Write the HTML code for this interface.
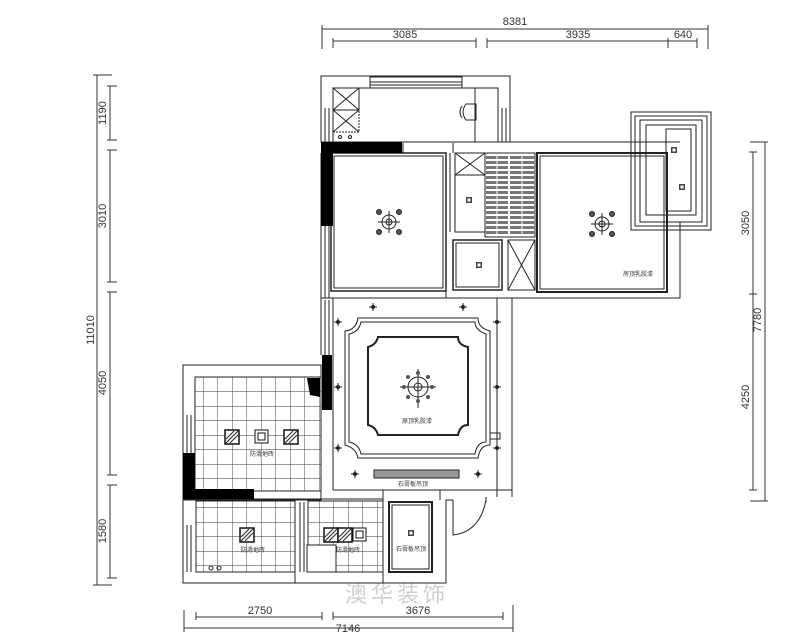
<!DOCTYPE html>
<html><head><meta charset="utf-8"><style>
html,body{margin:0;padding:0;background:#fff}
svg{display:block}
text{font-family:"Liberation Sans","Noto Sans CJK SC",sans-serif;fill:#333}
</style></head><body>
<svg width="800" height="637" viewBox="0 0 800 637" xmlns="http://www.w3.org/2000/svg">
<defs>
<g id="lamp" fill="none" stroke="#222" stroke-width="1">
<circle r="7"/><circle r="3"/><line x1="-11" y1="0" x2="11" y2="0"/><line x1="0" y1="-11" x2="0" y2="11"/>
<circle cx="-10" cy="-10" r="2.5" fill="#555"/><circle cx="10" cy="-10" r="2.5" fill="#555"/><circle cx="-10" cy="10" r="2.5" fill="#555"/><circle cx="10" cy="10" r="2.5" fill="#555"/>
</g>
<g id="dot"><rect x="-3" y="-3" width="6" height="6" fill="#444"/><rect x="-1.5" y="-1.5" width="3" height="3" fill="#fff"/></g>
<g id="hat"><rect x="-7" y="-7" width="14" height="14" fill="#fff" stroke="#111" stroke-width="1.5"/><path d="M-6 2 L2 -6 M-6 6 L6 -6 M-2 6 L6 -2" stroke="#333" stroke-width="1.2"/></g>
<g id="sp" stroke="#222" stroke-width="1"><line x1="-4" y1="0" x2="4" y2="0"/><line x1="0" y1="-4" x2="0" y2="4"/><circle r="1.5" fill="#222"/></g>
<pattern id="tile" width="14.5" height="14.5" patternUnits="userSpaceOnUse"><path d="M0 0 H14.5 M0 0 V14.5" stroke="#333" stroke-width="0.9" fill="none"/></pattern>
<pattern id="stair" width="10" height="5" patternUnits="userSpaceOnUse"><rect width="10" height="5" fill="#fff"/><rect y="1" width="10" height="3" fill="#777"/></pattern>
</defs>
<g fill="none" stroke="#333" stroke-width="1">
<!-- top dims -->
<line x1="322" y1="29" x2="708" y2="29"/><line x1="322" y1="25" x2="322" y2="49"/><line x1="708" y1="25" x2="708" y2="49"/>
<line x1="333" y1="41" x2="476" y2="41"/><line x1="487" y1="41" x2="697" y2="41"/>
<line x1="333" y1="38" x2="333" y2="48"/><line x1="476" y1="38" x2="476" y2="48"/><line x1="487" y1="38" x2="487" y2="48"/><line x1="668" y1="38" x2="668" y2="48"/><line x1="697" y1="38" x2="697" y2="48"/>
<!-- left dims -->
<line x1="97" y1="75" x2="97" y2="585"/><line x1="93" y1="75" x2="112" y2="75"/><line x1="93" y1="585" x2="112" y2="585"/>
<line x1="110" y1="86" x2="110" y2="140"/><line x1="110" y1="150" x2="110" y2="282"/><line x1="110" y1="292" x2="110" y2="475"/><line x1="110" y1="485" x2="110" y2="578"/>
<path d="M107 86h10M107 140h10M107 150h10M107 282h10M107 292h10M107 475h10M107 485h10M107 578h10"/>
<!-- right dims -->
<line x1="765" y1="142" x2="765" y2="501"/><line x1="750" y1="142" x2="768" y2="142"/><line x1="750" y1="501" x2="768" y2="501"/>
<line x1="753" y1="152" x2="753" y2="490"/><path d="M749 152h8M749 294h8M749 490h8"/>
<!-- bottom dims -->
<line x1="184" y1="610" x2="184" y2="632"/><line x1="513" y1="605" x2="513" y2="632"/>
<line x1="184" y1="628" x2="513" y2="628"/>
<line x1="196" y1="617" x2="322" y2="617"/><line x1="333" y1="617" x2="503" y2="617"/>
<path d="M196 612v8M322 612v8M333 612v8M503 612v8"/>
</g>
<g font-size="11" text-anchor="middle">
<text x="515" y="25">8381</text><text x="405" y="38">3085</text><text x="578" y="38">3935</text><text x="683" y="38">640</text>
<text transform="translate(106,113) rotate(-90)">1190</text>
<text transform="translate(106,216) rotate(-90)">3010</text>
<text transform="translate(94,330) rotate(-90)">11010</text>
<text transform="translate(106,383) rotate(-90)">4050</text>
<text transform="translate(106,531) rotate(-90)">1580</text>
<text transform="translate(749,223) rotate(-90)">3050</text>
<text transform="translate(761,320) rotate(-90)">7780</text>
<text transform="translate(749,397) rotate(-90)">4250</text>
<text x="260" y="614">2750</text><text x="418" y="614">3676</text><text x="348" y="632">7146</text>
</g>
<!-- watermark -->
<text x="345" y="602" font-size="22" fill="#ccc" style="fill:#d0d0d0" letter-spacing="4">澳华装饰</text>

<g fill="none" stroke="#222" stroke-width="1">
<!-- kitchen -->
<rect x="321" y="76" width="189" height="66"/>
<rect x="333" y="88" width="165" height="54"/>
<rect x="370" y="77" width="92" height="11"/><line x1="370" y1="82" x2="462" y2="82"/><line x1="370" y1="85" x2="462" y2="85"/>
<line x1="325" y1="108" x2="325" y2="142"/><line x1="329" y1="108" x2="329" y2="142"/>
<line x1="502" y1="108" x2="502" y2="142"/><line x1="506" y1="108" x2="506" y2="142"/>
<rect x="333" y="88" width="26" height="22"/><path d="M333 88l26 22M359 88l-26 22"/>
<rect x="333" y="110" width="26" height="22" stroke-dasharray="2 1"/><path d="M333 110l26 22M359 110l-26 22"/>
<circle cx="340" cy="137" r="1.5"/><circle cx="350" cy="137" r="1.5"/>
<line x1="475" y1="88" x2="475" y2="142"/>
<path d="M476 104h-10q-6 8 0 16h10z"/><path d="M462 106q-4 6 0 12"/>
<!-- upper band -->
<line x1="400" y1="142" x2="680" y2="142"/>
<line x1="403" y1="143" x2="403" y2="153"/><line x1="453" y1="143" x2="453" y2="153"/>
<!-- bedroom 1 -->
<rect x="331" y="153" width="115" height="138" stroke-width="1.5"/>
<rect x="334" y="156" width="109" height="132"/>
<path d="M321 153V298M325 226V298M329 226V298"/>
<line x1="321" y1="298" x2="512" y2="298"/>
<!-- middle -->
<line x1="446" y1="153" x2="446" y2="298"/><line x1="450" y1="153" x2="450" y2="232"/>
<rect x="455" y="153" width="30" height="22"/><path d="M455 153l30 22M485 153l-30 22"/>
<rect x="455" y="175" width="30" height="57"/>
<rect x="453" y="240" width="49" height="50" stroke-width="1.5"/><rect x="456" y="243" width="43" height="44"/>
<rect x="485" y="153" width="50" height="84"/>
<rect x="508" y="240" width="27" height="50"/><path d="M508 240l27 50M535 240l-27 50"/>
<!-- bedroom 2 -->
<rect x="537" y="153" width="130" height="139" stroke-width="2"/>
<rect x="540" y="156" width="124" height="133"/>
<path d="M667 222H680V298H512V497"/>
<!-- balcony -->
<rect x="631" y="112" width="80" height="118"/><rect x="635" y="116" width="72" height="110"/><rect x="640" y="120" width="62" height="102"/><rect x="646" y="125" width="50" height="90"/><rect x="666" y="129" width="25" height="82"/>
<!-- living -->
<line x1="333" y1="298" x2="333" y2="490"/>
<line x1="321" y1="298" x2="321" y2="355"/><line x1="325" y1="300" x2="325" y2="355"/><line x1="329" y1="300" x2="329" y2="355"/>
<line x1="321" y1="410" x2="321" y2="500"/>
<path d="M358 318H478Q478 328 490 331V445Q480 445 478 458H358Q356 448 345 445V331Q356 330 358 318Z" stroke-width="1"/>
<path d="M361 322H475Q475 330 486 334V442Q477 442 475 454H361Q359 444 349 442V334Q359 332 361 322Z"/>
<path d="M378 337H458Q458 345 468 347V425Q460 425 458 435H378Q376 427 368 425V347Q376 345 378 337Z" stroke-width="2"/>
<rect x="374" y="470" width="85" height="8" fill="#999"/><rect x="374" y="470" width="85" height="8"/>
<line x1="497" y1="298" x2="497" y2="497"/>
<rect x="490" y="433" width="10" height="6"/>
<line x1="333" y1="490" x2="512" y2="490"/>
<!-- dining -->
<rect x="183" y="365" width="138" height="135"/>
<rect x="195" y="377" width="126" height="114" fill="url(#tile)"/>
<rect x="195" y="377" width="126" height="114"/>
<path d="M187 415V453M191 415V453"/>
<!-- lower -->
<rect x="183" y="499" width="200" height="84"/>
<line x1="383" y1="490" x2="383" y2="583"/>
<rect x="196" y="501" width="99" height="71" fill="url(#tile)"/><rect x="196" y="501" width="99" height="71"/>
<path d="M187 525V572M191 525V572"/>
<line x1="295" y1="499" x2="295" y2="583"/><line x1="300" y1="502" x2="300" y2="572"/><line x1="304" y1="502" x2="304" y2="572"/>
<rect x="308" y="501" width="75" height="71" fill="url(#tile)"/><rect x="308" y="501" width="75" height="71"/>
<rect x="307" y="545" width="29" height="27" fill="#fff"/>
<circle cx="211" cy="568" r="2"/><circle cx="219" cy="568" r="2"/>
<rect x="389" y="502" width="43" height="70" stroke-width="2"/><rect x="392" y="505" width="37" height="64"/>
<path d="M383 583H446V500H453"/>
<path d="M453 500V535Q480 532 486 500" /><line x1="486" y1="497" x2="486" y2="502"/>
<line x1="440" y1="490" x2="440" y2="500"/>
</g>
<g fill="url(#stair)"><rect x="486" y="154" width="22" height="82"/><rect x="510" y="154" width="24" height="82"/></g>
<g fill="none" stroke="#fff" stroke-width="1"><line x1="497" y1="154" x2="497" y2="236"/><line x1="522" y1="154" x2="522" y2="236"/></g>
<!-- black walls -->
<g fill="#000">
<rect x="321" y="142" width="81" height="11"/><rect x="321" y="142" width="12" height="84"/>
<rect x="322" y="355" width="10" height="55"/>
<rect x="183" y="453" width="12" height="40"/><rect x="183" y="489" width="71" height="10"/>
<path d="M307 378H320V397L310 395Z"/>
</g>
<!-- fixtures -->
<use href="#lamp" x="389" y="222"/><use href="#lamp" x="602" y="224"/>
<g fill="none" stroke="#222"><circle cx="418" cy="387" r="10"/><circle cx="418" cy="387" r="4"/><line x1="400" y1="387" x2="436" y2="387"/><line x1="418" y1="369" x2="418" y2="408"/></g>
<g fill="#555"><circle cx="418" cy="373" r="2"/><circle cx="418" cy="401" r="2"/><circle cx="404" cy="387" r="2"/><circle cx="432" cy="387" r="2"/><circle cx="408" cy="377" r="2"/><circle cx="428" cy="377" r="2"/><circle cx="408" cy="397" r="2"/><circle cx="428" cy="397" r="2"/></g>
<use href="#dot" x="469" y="200"/><use href="#dot" x="479" y="265"/><use href="#dot" x="674" y="150"/><use href="#dot" x="682" y="187"/><use href="#dot" x="411" y="533"/>
<use href="#sp" x="373" y="307"/><use href="#sp" x="463" y="307"/><use href="#sp" x="338" y="322"/><use href="#sp" x="497" y="322"/><use href="#sp" x="338" y="387"/><use href="#sp" x="497" y="387"/><use href="#sp" x="338" y="448"/><use href="#sp" x="497" y="448"/><use href="#sp" x="355" y="474"/><use href="#sp" x="478" y="474"/>
<use href="#hat" x="232" y="437"/><use href="#hat" x="291" y="437"/><use href="#hat" x="247" y="535"/><use href="#hat" x="331" y="535"/><use href="#hat" x="345" y="535"/>
<g fill="#fff" stroke="#111"><rect x="255" y="430" width="13" height="13"/><rect x="258" y="433" width="7" height="7"/><rect x="353" y="528" width="13" height="13"/><rect x="356" y="531" width="7" height="7"/></g>
<g font-size="6" text-anchor="middle">
<text x="638" y="276">房顶乳胶漆</text><text x="417" y="423">原顶乳胶漆</text><text x="413" y="486">石膏板吊顶</text>
<text x="262" y="456">防滑地砖</text><text x="253" y="552">防滑地砖</text><text x="348" y="552">防滑地砖</text><text x="411" y="551">石膏板吊顶</text>
</g>
</svg>
</body></html>
